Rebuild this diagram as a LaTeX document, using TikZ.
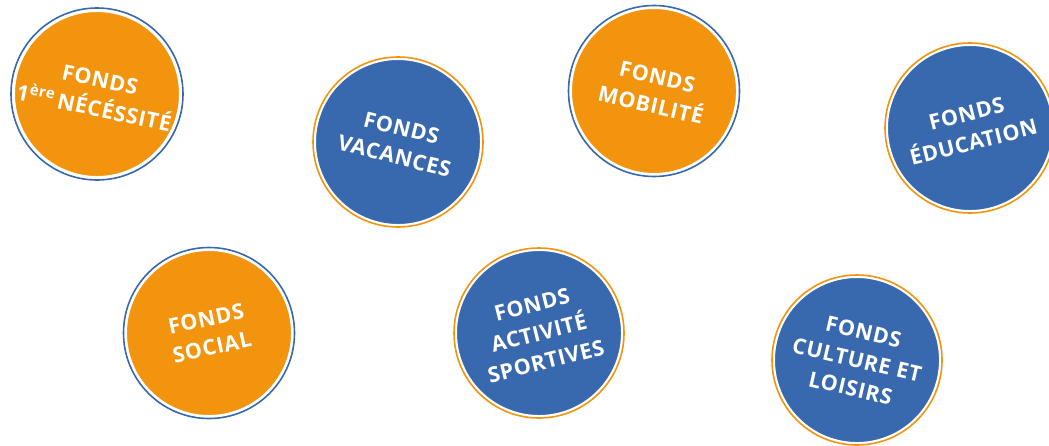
\documentclass[tikz,border=0pt]{standalone}
\usepackage{fontspec}
\setmainfont{Open Sans}[LetterSpace=3]
\definecolor{fondsorange}{RGB}{243,148,14}
\definecolor{fondsblue}{RGB}{56,104,173}
\begin{document}
\begin{tikzpicture}[x=1pt,y=-1pt,
  disc/.style={circle,fill=#1,draw=white,line width=3pt,minimum size=167pt,inner sep=0pt,
    text=white,font=\fontsize{21.5}{29}\selectfont\bfseries,align=center},
  ring/.style={draw=#1,line width=1.6pt}]
\useasboundingbox (0,0) rectangle (1049,445);
\fill[white] (0,0) rectangle (1049,445);
\node[disc=fondsorange,rotate=-12] (n1) at (97,94) {FONDS\\1\textsuperscript{ère}\,NÉCÉSSITÉ};
\draw[ring=fondsblue] (n1.center) circle (86);
\node[disc=fondsblue,rotate=-14] (n2) at (398,142) {FONDS\\VACANCES};
\draw[ring=fondsorange] (n2.center) circle (85);
\node[disc=fondsorange,rotate=-13] (n3) at (654,91) {FONDS\\MOBILITÉ};
\draw[ring=fondsblue] (n3.center) circle (85.5);
\node[disc=fondsblue,rotate=14] (n4) at (970,128) {FONDS\\ÉDUCATION};
\draw[ring=fondsorange] (n4.center) circle (85);
\node[disc=fondsorange,rotate=12] (n5) at (209,333) {FONDS\\SOCIAL};
\draw[ring=fondsblue] (n5.center) circle (85.5);
\node[disc=fondsblue,rotate=14] (n6) at (539,333) {FONDS\\ACTIVITÉ\\SPORTIVES};
\draw[ring=fondsorange] (n6.center) circle (85);
\node[disc=fondsblue,rotate=-13] (n7) at (857,360) {FONDS\\CULTURE ET\\LOISIRS};
\draw[ring=fondsorange] (n7.center) circle (85);
\end{tikzpicture}
\end{document}
